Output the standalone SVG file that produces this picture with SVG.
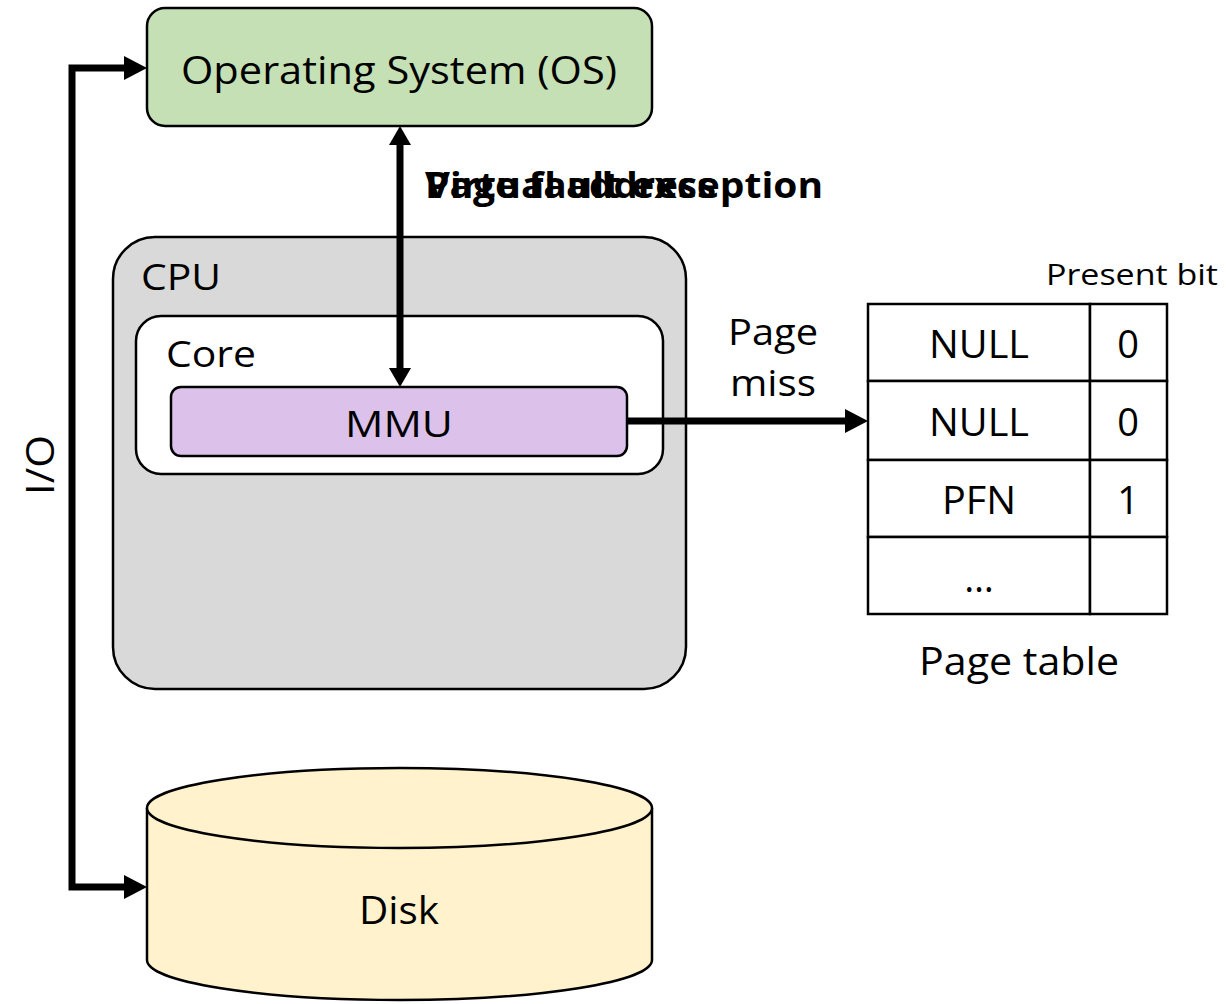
<svg xmlns="http://www.w3.org/2000/svg" width="1226" height="1004" viewBox="0 0 1226 1004">
<style>
.t{font-family:"Open Sans","Liberation Sans",sans-serif;fill:#000}
.box{stroke:#000;stroke-width:2.5}
.ln{stroke:#000;stroke-width:7;fill:none}
.cell{fill:#fff;stroke:#000;stroke-width:2.5}
</style>
<defs>
<marker id="ah" markerWidth="5" markerHeight="5" refX="4" refY="2.5" orient="auto" markerUnits="strokeWidth">
<path d="M0,0 L5,2.5 L0,5 z" fill="#000"/>
</marker>
</defs>
<rect width="1226" height="1004" fill="#fff"/>

<g id="os">
<rect class="box" x="147" y="8" width="505" height="118" rx="18" fill="#c5e0b4"/>
<text class="t" x="399" y="84" font-size="38" text-anchor="middle" textLength="436" lengthAdjust="spacingAndGlyphs">Operating System (OS)</text>
</g>

<g id="cpu">
<rect class="box" x="113" y="237" width="573" height="452" rx="42" fill="#d9d9d9"/>
<text class="t" x="141" y="290" font-size="36" textLength="80" lengthAdjust="spacingAndGlyphs">CPU</text>
</g>

<g id="core">
<rect class="box" x="136" y="316" width="527" height="158" rx="25" fill="#fff"/>
<text class="t" x="166" y="367" font-size="36" textLength="90" lengthAdjust="spacingAndGlyphs">Core</text>
</g>

<g id="mmu">
<rect class="box" x="171" y="387" width="456" height="69" rx="10" fill="#dcc2eb"/>
<text class="t" x="399" y="437" font-size="36" text-anchor="middle" textLength="108" lengthAdjust="spacingAndGlyphs">MMU</text>
</g>

<g id="disk">
<path class="box" d="M147,808 L147,960 A252.5,40 0 0 0 652,960 L652,808" fill="#fff2cc"/>
<ellipse class="box" cx="399.5" cy="808" rx="252.5" ry="40" fill="#fff2cc"/>
<text class="t" x="399" y="924" font-size="38" text-anchor="middle" textLength="80" lengthAdjust="spacingAndGlyphs">Disk</text>
</g>

<g id="pagetable">
<rect class="cell" x="868" y="304" width="222" height="77"/>
<rect class="cell" x="1090" y="304" width="77" height="77"/>
<rect class="cell" x="868" y="381" width="222" height="79"/>
<rect class="cell" x="1090" y="381" width="77" height="79"/>
<rect class="cell" x="868" y="460" width="222" height="77"/>
<rect class="cell" x="1090" y="460" width="77" height="77"/>
<rect class="cell" x="868" y="537" width="222" height="77"/>
<rect class="cell" x="1090" y="537" width="77" height="77"/>
<text class="t" x="979" y="358" font-size="38" text-anchor="middle" textLength="100" lengthAdjust="spacingAndGlyphs">NULL</text>
<text class="t" x="1128" y="358" font-size="38" text-anchor="middle">0</text>
<text class="t" x="979" y="436" font-size="38" text-anchor="middle" textLength="100" lengthAdjust="spacingAndGlyphs">NULL</text>
<text class="t" x="1128" y="436" font-size="38" text-anchor="middle">0</text>
<text class="t" x="979" y="514" font-size="38" text-anchor="middle" textLength="74" lengthAdjust="spacingAndGlyphs">PFN</text>
<text class="t" x="1128" y="514" font-size="38" text-anchor="middle">1</text>
<text class="t" x="979" y="592" font-size="38" text-anchor="middle">…</text>
<text class="t" x="1132" y="285" font-size="30" text-anchor="middle" textLength="172" lengthAdjust="spacingAndGlyphs">Present bit</text>
<text class="t" x="1019" y="675" font-size="38" text-anchor="middle" textLength="200" lengthAdjust="spacingAndGlyphs">Page table</text>
</g>

<g id="connectors">
<line class="ln" x1="400" y1="374" x2="400" y2="139"/>
<path d="M400,126 L389,145 L411,145 z" fill="#000"/>
<path d="M400,387 L389,368 L411,368 z" fill="#000"/>
<line class="ln" x1="627" y1="421" x2="848" y2="421"/>
<path d="M868,421 L845,409 L845,433 z" fill="#000"/>
<path class="ln" d="M128,68 L72,68 L72,887 L128,887"/>
<path d="M147,68 L124,56 L124,80 z" fill="#000"/>
<path d="M147,887 L124,875 L124,899 z" fill="#000"/>
<text class="t" x="425" y="198" font-size="36" font-weight="bold" textLength="291" lengthAdjust="spacingAndGlyphs">Virtual address</text>
<text class="t" x="425" y="198" font-size="36" font-weight="bold" textLength="398" lengthAdjust="spacingAndGlyphs">Page fault exception</text>
<text class="t" x="773" y="345" font-size="36" text-anchor="middle" textLength="90" lengthAdjust="spacingAndGlyphs">Page</text>
<text class="t" x="773" y="396" font-size="36" text-anchor="middle" textLength="86" lengthAdjust="spacingAndGlyphs">miss</text>
<text class="t" transform="translate(54,465) rotate(-90)" font-size="38" text-anchor="middle" textLength="60" lengthAdjust="spacingAndGlyphs">I/O</text>
</g>
</svg>
